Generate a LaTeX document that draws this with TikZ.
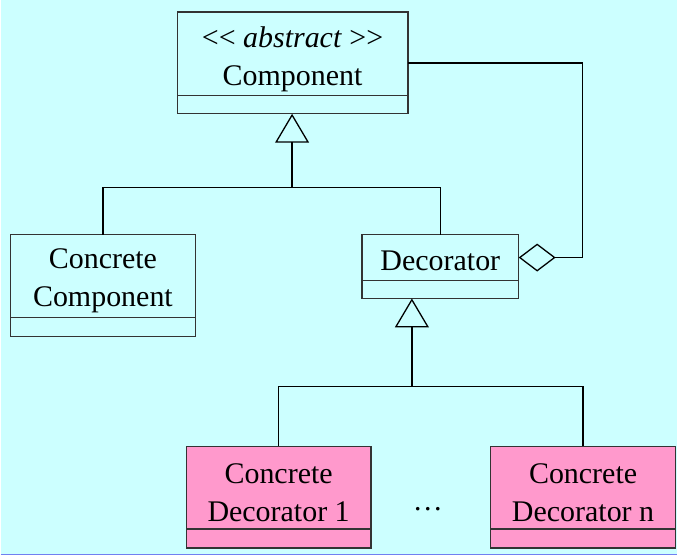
\documentclass[tikz,border=0pt]{standalone}
\usepackage{fontspec}
\setmainfont{Liberation Serif}
\usetikzlibrary{positioning,arrows.meta}
\definecolor{bgcyan}{HTML}{CCFFFF}
\definecolor{boxpink}{HTML}{FF99CC}
\definecolor{rimblue}{HTML}{7080F0}

\begin{document}
\begin{tikzpicture}[x=1pt,y=-1pt,
    classname/.style={draw=black!80,line width=1.3pt,fill=bgcyan,inner sep=0pt,
      outer sep=0pt,anchor=north west},
    classtext/.style={align=center,inner sep=0pt,font=\fontsize{30}{38}\selectfont},
    classattr/.style={draw=black!80,line width=1.3pt,fill=bgcyan,inner sep=0pt,
      outer sep=0pt,minimum height=18pt},
    link/.style={line width=1.5pt},
    inherit/.style={link,-{Triangle[open,length=29pt,width=34pt,line width=1.3pt]}},
    aggr/.style={link,{Diamond[open,length=37pt,width=28pt,line width=1.3pt]}-}
  ]
      \fill[bgcyan] (0,0) rectangle (678,556);
      \draw[rimblue,line width=1.2pt] (0,555.4) -- (678,555.4);

      \coordinate (A) at (177,12);
      \coordinate (B) at (10,235);
      \coordinate (C) at (362,235);
      \coordinate (D) at (186,447);
      \coordinate (E) at (491,447);
      \coordinate (J1) at (292,188);
      \coordinate (J2) at (412,387);
      \coordinate (K) at (583,63);

      \node[classname,minimum width=231pt,minimum height=84pt,
        label={[classtext,yshift=-5pt]center:{<\kern0pt< \textit{abstract} >\kern0pt>\\Component}}] (comp) at (A) {};
      \node[classattr,minimum width=231pt,below=0pt of comp] (compattr) {};

      \node[classname,minimum width=185pt,minimum height=83pt,
        label={[classtext,yshift=-5pt]center:{Concrete\\Component}}] (ccomp) at (B) {};
      \node[classattr,minimum width=185pt,minimum height=19pt,below=0pt of ccomp] (ccompattr) {};

      \node[classname,minimum width=157pt,minimum height=46pt,
        label={[classtext,yshift=-3pt]center:{Decorator}}] (deco) at (C) {};
      \node[classattr,minimum width=157pt,below=0pt of deco] (decoattr) {};

      \node[classname,fill=boxpink,minimum width=185pt,minimum height=83pt,
        label={[classtext,yshift=-5pt]center:{Concrete\\Decorator 1}}] (cdeco1) at (D) {};
      \node[classattr,fill=boxpink,minimum width=185pt,minimum height=19pt,below=0pt of cdeco1] (cdeco1attr) {};

      \node[classname,fill=boxpink,minimum width=185pt,minimum height=83pt,
        label={[classtext,yshift=-5pt]center:{Concrete\\Decorator n}}] (cdecon) at (E) {};
      \node[classattr,fill=boxpink,minimum width=185pt,minimum height=19pt,below=0pt of cdecon] (cdeconattr) {};

      \node[font=\fontsize{30}{38}\selectfont] (dots) at (428,510) {\dots};

      \draw[link] (ccomp.north) |- (J1);
      \draw[link] (deco.north) |- (J1);
      \draw[inherit] (J1) -- (J1 |- compattr.south);

      \draw[link] (cdeco1.north) |- (J2);
      \draw[link] (cdecon.north) |- (J2);
      \draw[inherit] (J2) -- (J2 |- decoattr.south);

      \draw[aggr] (deco.east) -| (K) -- (comp.east |- K);

    \end{tikzpicture}
\end{document}
